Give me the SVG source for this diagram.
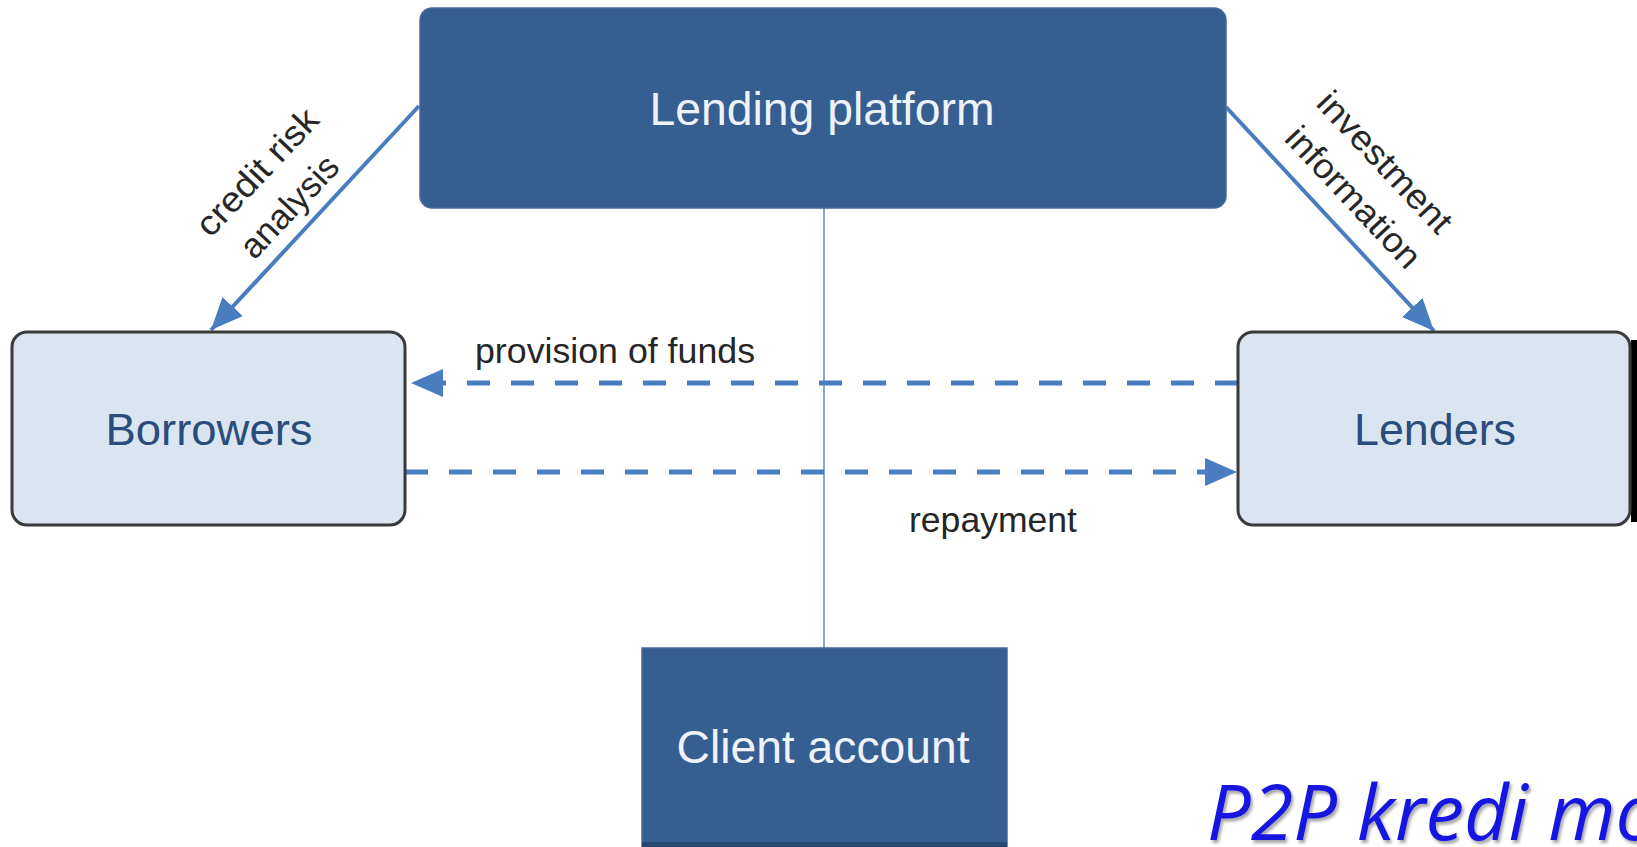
<svg xmlns="http://www.w3.org/2000/svg" width="1637" height="847" viewBox="0 0 1637 847">
<defs>
<style>
.dark{fill:#365f91;stroke:#4a6a95;stroke-width:1.5}
.light{fill:#dbe5f1;stroke:#3a3a3a;stroke-width:3}
.lbl-w{font-family:"Liberation Sans",Arial,sans-serif;font-size:46px;fill:#eef3fa;text-anchor:middle}
.lbl-b{font-family:"Liberation Sans",Arial,sans-serif;font-size:45px;fill:#2a4d7c;text-anchor:middle}
.edge{font-family:"Liberation Sans",Arial,sans-serif;font-size:35px;fill:#262626}
.solid{stroke:#4a7dc0;stroke-width:4;fill:none}
.dash{stroke:#4a7dc0;stroke-width:5;fill:none;stroke-dasharray:23 21}
.thin{stroke:#8aa8d6;stroke-width:2;fill:none}
.title{font-family:"Open Sans","Noto Sans",sans-serif;font-style:italic;font-size:76px;fill:#1212e0}
</style>
<marker id="ah" markerUnits="userSpaceOnUse" markerWidth="34" markerHeight="30" refX="32" refY="15" orient="auto">
<path d="M0,1 L32,15 L0,29 Z" fill="#4a7dc0"/>
</marker>
<filter id="sh" x="-5%" y="-20%" width="110%" height="140%">
<feDropShadow dx="2" dy="3" stdDeviation="1.5" flood-color="#000" flood-opacity="0.35"/>
</filter>
</defs>
<rect width="1637" height="847" fill="#ffffff"/>

<g id="connectors">
<line class="thin" x1="824" y1="208" x2="824" y2="648"/>
<line class="solid" x1="419" y1="106" x2="211" y2="330" marker-end="url(#ah)"/>
<line class="solid" x1="1226" y1="107" x2="1434" y2="331" marker-end="url(#ah)"/>
<line class="dash" x1="1238" y1="383" x2="411" y2="383" marker-end="url(#ah)"/>
<line class="dash" x1="405" y1="472" x2="1237" y2="472" marker-end="url(#ah)"/>
<text class="edge" x="475" y="363" textLength="280" lengthAdjust="spacingAndGlyphs">provision of funds</text>
<text class="edge" x="909" y="532" textLength="168" lengthAdjust="spacingAndGlyphs">repayment</text>
<g transform="translate(257,172) rotate(-46.7)">
<text class="edge" x="0" y="12" text-anchor="middle" textLength="161" lengthAdjust="spacingAndGlyphs">credit risk</text>
<text class="edge" x="-3" y="59" text-anchor="middle">analysis</text>
</g>
<g transform="translate(1385,162) rotate(46.8)">
<text class="edge" x="0" y="12" text-anchor="middle" textLength="180" lengthAdjust="spacingAndGlyphs">investment</text>
<text class="edge" x="4" y="59" text-anchor="middle" textLength="180" lengthAdjust="spacingAndGlyphs">information</text>
</g>
</g>

<g id="lending-platform">
<rect class="dark" x="420" y="8" width="806" height="200" rx="12"/>
<text class="lbl-w" x="822" y="125" textLength="345" lengthAdjust="spacingAndGlyphs">Lending platform</text>
</g>

<g id="borrowers">
<rect class="light" x="12" y="332" width="393" height="193" rx="15"/>
<text class="lbl-b" x="209" y="445" textLength="207" lengthAdjust="spacingAndGlyphs">Borrowers</text>
</g>

<g id="lenders">
<rect x="1631" y="340" width="6" height="182" fill="#000"/>
<rect class="light" x="1238" y="332" width="392" height="193" rx="15"/>
<text class="lbl-b" x="1435" y="445" textLength="162" lengthAdjust="spacingAndGlyphs">Lenders</text>
</g>

<g id="client-account">
<rect class="dark" x="642" y="648" width="365" height="210"/>
<rect x="642" y="842" width="365" height="5" fill="#26476f"/>
<text class="lbl-w" x="823" y="763" textLength="293" lengthAdjust="spacingAndGlyphs">Client account</text>
</g>

<g id="title">
<text class="title" x="1207" y="840" textLength="452" lengthAdjust="spacingAndGlyphs" filter="url(#sh)">P2P kredi mo</text>
</g>
</svg>
